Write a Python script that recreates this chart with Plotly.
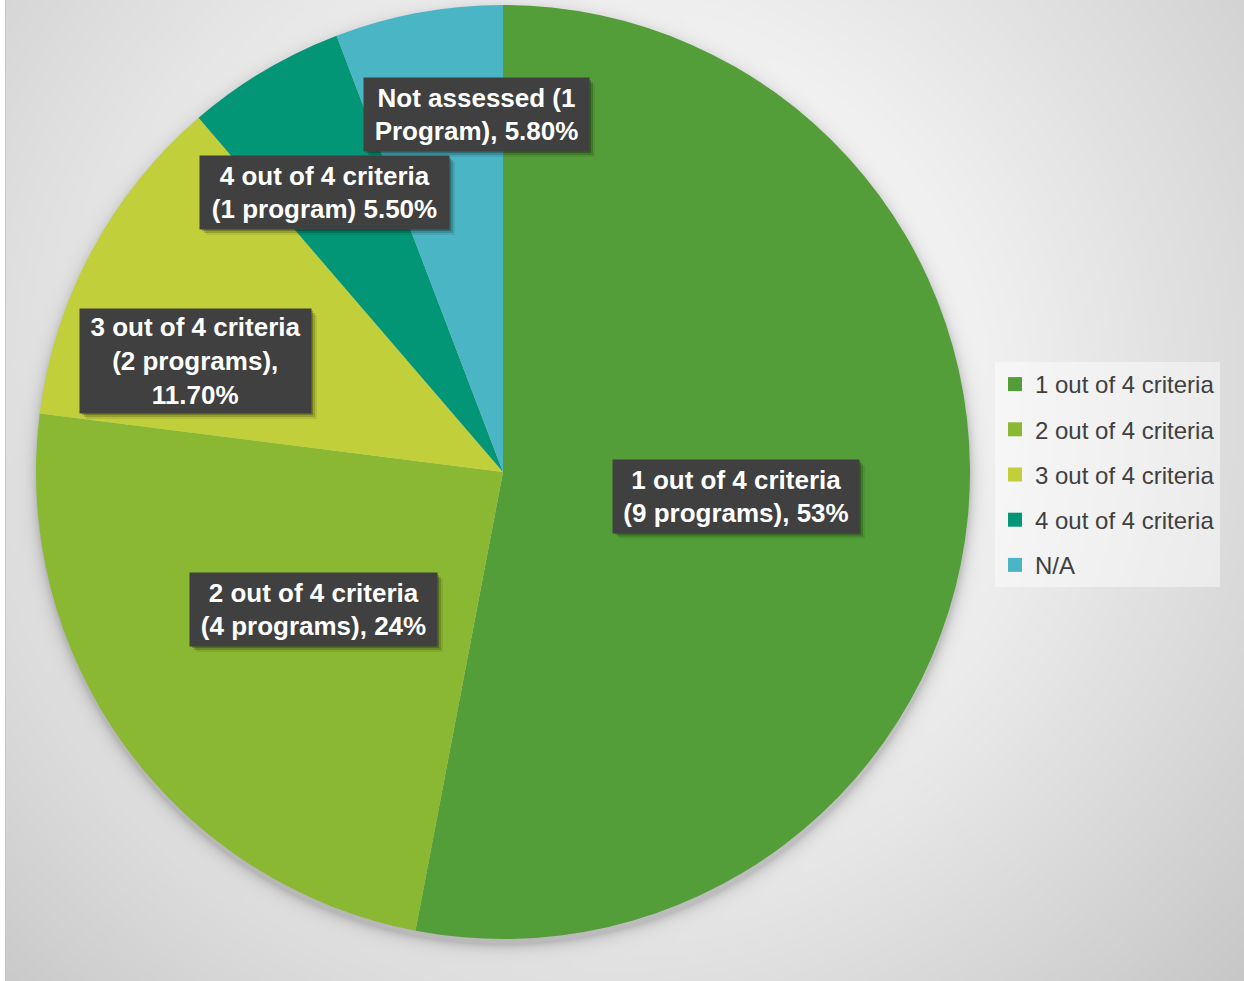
import base64
import struct
import zlib

import numpy as np
import plotly.graph_objects as go

# ---- data ---------------------------------------------------------------
categories = ["1 out of 4 criteria", "2 out of 4 criteria", "3 out of 4 criteria",
              "4 out of 4 criteria", "N/A"]
shares = [53, 24, 11.7, 5.5, 5.8]
programs = [9, 4, 2, 1, 1]
share_decimals = [0, 0, 2, 2, 2]
colors = ["#549E39", "#8AB833", "#C0CF3A", "#029676", "#4AB5C4"]

label_texts = [
    "1 out of 4 criteria<br>({n} programs), {p}",
    "2 out of 4 criteria<br>({n} programs), {p}",
    "3 out of 4 criteria<br>({n} programs),<br>{p}",
    "4 out of 4 criteria<br>({n} program) {p}",
    "Not assessed ({n}<br>Program), {p}",
]
# label box centre (px) and box size (px)
label_boxes = [
    (736, 496, 246, 73),
    (313.5, 609.5, 247, 73),
    (195.5, 361, 231, 104),
    (324.5, 192.5, 249, 73),
    (476.5, 114.5, 225, 73),
]

W, H = 1244, 981
FONT = "Liberation Sans, Arial, sans-serif"

# ---- soft radial background with pie drop shadow ------------------------
yy, xx = np.mgrid[0:H, 0:W].astype(float)
dist = np.hypot(xx - 600, yy - 450)
g = np.clip(255 - 0.083 * (dist - 250), 185, 255) - 8 * (yy / H)
edge = np.hypot(xx - 503, yy - 477) - 467
shadow = 0.18 * np.exp(-np.clip(edge, 0, None) / 6.0)
g = g * (1 - shadow)
g[:, :5] = 255
g[:, 5] = 200
raw = np.clip(np.round(g), 0, 255).astype(np.uint8)
sub = (np.diff(raw.astype(np.int16), axis=1, prepend=0) % 256).astype(np.uint8)
rows = np.hstack([np.ones((H, 1), np.uint8), sub])


def _chunk(tag, payload):
    return (struct.pack(">I", len(payload)) + tag + payload
            + struct.pack(">I", zlib.crc32(tag + payload) & 0xFFFFFFFF))


png = (b"\x89PNG\r\n\x1a\n"
       + _chunk(b"IHDR", struct.pack(">IIBBBBB", W, H, 8, 0, 0, 0, 0))
       + _chunk(b"IDAT", zlib.compress(rows.tobytes(), 9))
       + _chunk(b"IEND", b""))
bg_src = "data:image/png;base64," + base64.b64encode(png).decode()

# ---- figure -------------------------------------------------------------
fig = go.Figure()
fig.add_trace(go.Pie(
    labels=categories,
    values=shares,
    sort=False,
    direction="clockwise",
    rotation=0,
    marker=dict(colors=colors, line=dict(width=0)),
    textinfo="none",
    hoverinfo="label+percent",
    showlegend=False,
    domain=dict(x=[36 / W, 970 / W], y=[1 - 939 / H, 1 - 5 / H]),
))

# legend entries (one group each so rows can be spaced apart)
for cat, col in zip(categories, colors):
    fig.add_trace(go.Scatter(
        x=[None], y=[None], mode="markers", name=cat, legendgroup=cat,
        marker=dict(symbol="square", size=14, color=col, line=dict(width=0)),
        showlegend=True, hoverinfo="skip",
    ))

annotations = []
shapes = []
for tmpl, n, v, dec, (cx, cy, bw, bh) in zip(label_texts, programs, shares,
                                             share_decimals, label_boxes):
    text = tmpl.format(n=n, p=f"{v:.{dec}f}%")
    annotations.append(dict(
        text=text, xref="paper", yref="paper", x=cx / W, y=1 - cy / H,
        xanchor="center", yanchor="middle", showarrow=False,
        width=bw - 6, height=bh - 6, borderpad=3, align="center", valign="middle",
        bgcolor="#404040",
        font=dict(family=FONT, size=26, color="#FFFFFF", weight="bold"),
    ))
    # soft drop shadow under each label box
    for off, alpha in ((2, 0.22), (4, 0.16), (6, 0.08)):
        shapes.append(dict(
            type="rect", xref="paper", yref="paper", layer="above",
            x0=(cx - bw / 2 + off) / W, x1=(cx + bw / 2 + off) / W,
            y0=1 - (cy + bh / 2 + off) / H, y1=1 - (cy - bh / 2 + off) / H,
            fillcolor=f"rgba(0,0,0,{alpha})", line=dict(width=0),
        ))

fig.update_layout(
    width=W, height=H,
    margin=dict(l=0, r=0, t=0, b=0),
    paper_bgcolor="#FFFFFF",
    plot_bgcolor="rgba(0,0,0,0)",
    xaxis=dict(visible=False),
    yaxis=dict(visible=False),
    images=[dict(source=bg_src, xref="paper", yref="paper", x=0, y=1,
                 sizex=1, sizey=1, xanchor="left", yanchor="top",
                 sizing="stretch", layer="below")],
    annotations=annotations,
    shapes=shapes,
    showlegend=True,
    legend=dict(
        x=995 / W, y=1 - 362 / H, xanchor="left", yanchor="top",
        bgcolor="rgba(255,255,255,0.45)",
        font=dict(family=FONT, size=24, color="#404040"),
        itemwidth=30, tracegroupgap=11,
    ),
)

fig.write_html("out.html")
